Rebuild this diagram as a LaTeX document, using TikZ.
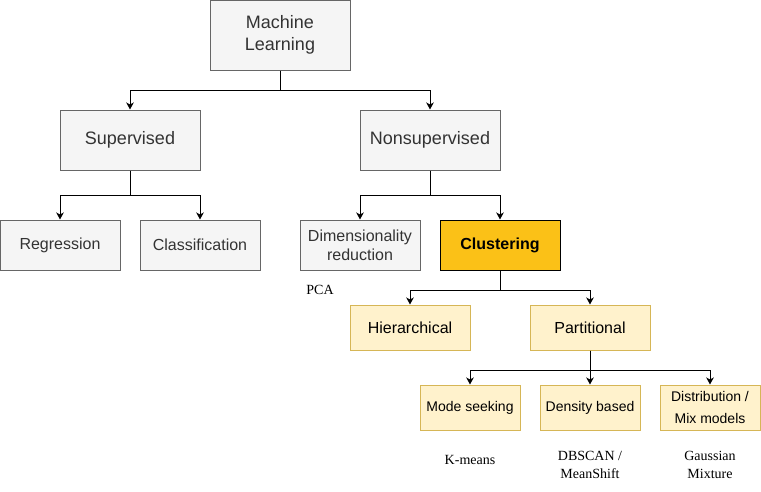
\documentclass[tikz,border=0pt]{standalone}
\usepackage{fontspec}
\setmainfont{Liberation Serif}
\setsansfont{Liberation Sans}
\usetikzlibrary{arrows.meta}
\definecolor{boxgray}{HTML}{F5F5F5}
\definecolor{linegray}{HTML}{666666}
\definecolor{textgray}{HTML}{333333}
\definecolor{boxcream}{HTML}{FFF2CC}
\definecolor{linecream}{HTML}{D6B656}
\definecolor{boxgold}{HTML}{FBC117}
\tikzset{
  catnode/.style = {rectangle, align=center, inner sep=0pt, line width=1pt,
    font=\sffamily\fontsize{16}{19.2}\selectfont},
  grey/.style = {catnode, draw=linegray, fill=boxgray, text=textgray},% branche generale
  cream/.style = {catnode, draw=linecream, fill=boxcream, text=black},% branche clustering
  gold/.style = {catnode, draw=black, fill=boxgold, text=black,
    font=\sffamily\bfseries\fontsize{16}{19.2}\selectfont},% noeud mis en avant
  algo/.style = {align=center, inner sep=0pt,
    font=\rmfamily\fontsize{14}{18}\selectfont},% exemples d'algorithmes
  edge/.style = {line width=1pt, -{Stealth[length=7pt,width=7.5pt,inset=2pt]}}
}
\begin{document}
\begin{tikzpicture}[x=1pt,y=-1pt]
	\useasboundingbox (0,0) rectangle (761,491);
	% niveau 0 et 1
	\node [grey, minimum width=140pt, minimum height=70pt,
	  font=\sffamily\fontsize{18}{21.6}\selectfont] (ml) at (280,35) {Machine\\Learning};
	\node [grey, minimum width=140pt, minimum height=60pt,
	  font=\sffamily\fontsize{18}{21.6}\selectfont] (sup) at (130,140) {Supervised};
	\node [grey, minimum width=140pt, minimum height=60pt,
	  font=\sffamily\fontsize{18}{21.6}\selectfont] (nonsup) at (430,140) {Nonsupervised};
	% niveau 2
	\node [grey, minimum width=120pt, minimum height=50pt] (reg) at (60,245) {Regression};
	\node [grey, minimum width=120pt, minimum height=50pt] (cls) at (200,245) {Classification};
	\node [grey, minimum width=120pt, minimum height=50pt] (dim) at (360,245) {Dimensionality\\reduction};
	\node [gold, minimum width=120pt, minimum height=50pt] (clu) at (500,245) {Clustering};
	\node [algo] (pca) at (320,290) {PCA};
	% niveau 3
	\node [cream, minimum width=120pt, minimum height=45pt] (hier) at (410,327.5) {Hierarchical};
	\node [cream, minimum width=120pt, minimum height=45pt] (part) at (590,327.5) {Partitional};
	% niveau 4
	\node [cream, minimum width=100pt, minimum height=45pt,
	  font=\sffamily\fontsize{14}{22}\selectfont] (mode) at (470,407.5) {Mode seeking};
	\node [cream, minimum width=100pt, minimum height=45pt,
	  font=\sffamily\fontsize{14}{22}\selectfont] (dens) at (590,407.5) {Density based};
	\node [cream, minimum width=100pt, minimum height=45pt,
	  font=\sffamily\fontsize{14}{22}\selectfont] (dist) at (710,407.5) {Distribution /\\Mix models};
	\node [algo] (kmeans) at (470,460) {K-means};
	\node [algo] (dbscan) at (590,465) {DBSCAN /\\MeanShift};
	\node [algo] (gauss) at (710,465) {Gaussian\\Mixture};
	% connecteurs
	\draw [edge] (ml.south) -- ++(0,20) -| (sup.north);
	\draw [edge] (ml.south) -- ++(0,20) -| (nonsup.north);
	\draw [edge] (sup.south) -- ++(0,25) -| (reg.north);
	\draw [edge] (sup.south) -- ++(0,25) -| (cls.north);
	\draw [edge] (nonsup.south) -- ++(0,25) -| (dim.north);
	\draw [edge] (nonsup.south) -- ++(0,25) -| (clu.north);
	\draw [edge] (clu.south) -- ++(0,20) -| (hier.north);
	\draw [edge] (clu.south) -- ++(0,20) -| (part.north);
	\draw [edge] (part.south) -- ++(0,20) -| (mode.north);
	\draw [edge] (part.south) -- (dens.north);
	\draw [edge] (part.south) -- ++(0,20) -| (dist.north);
\end{tikzpicture}
\end{document}
